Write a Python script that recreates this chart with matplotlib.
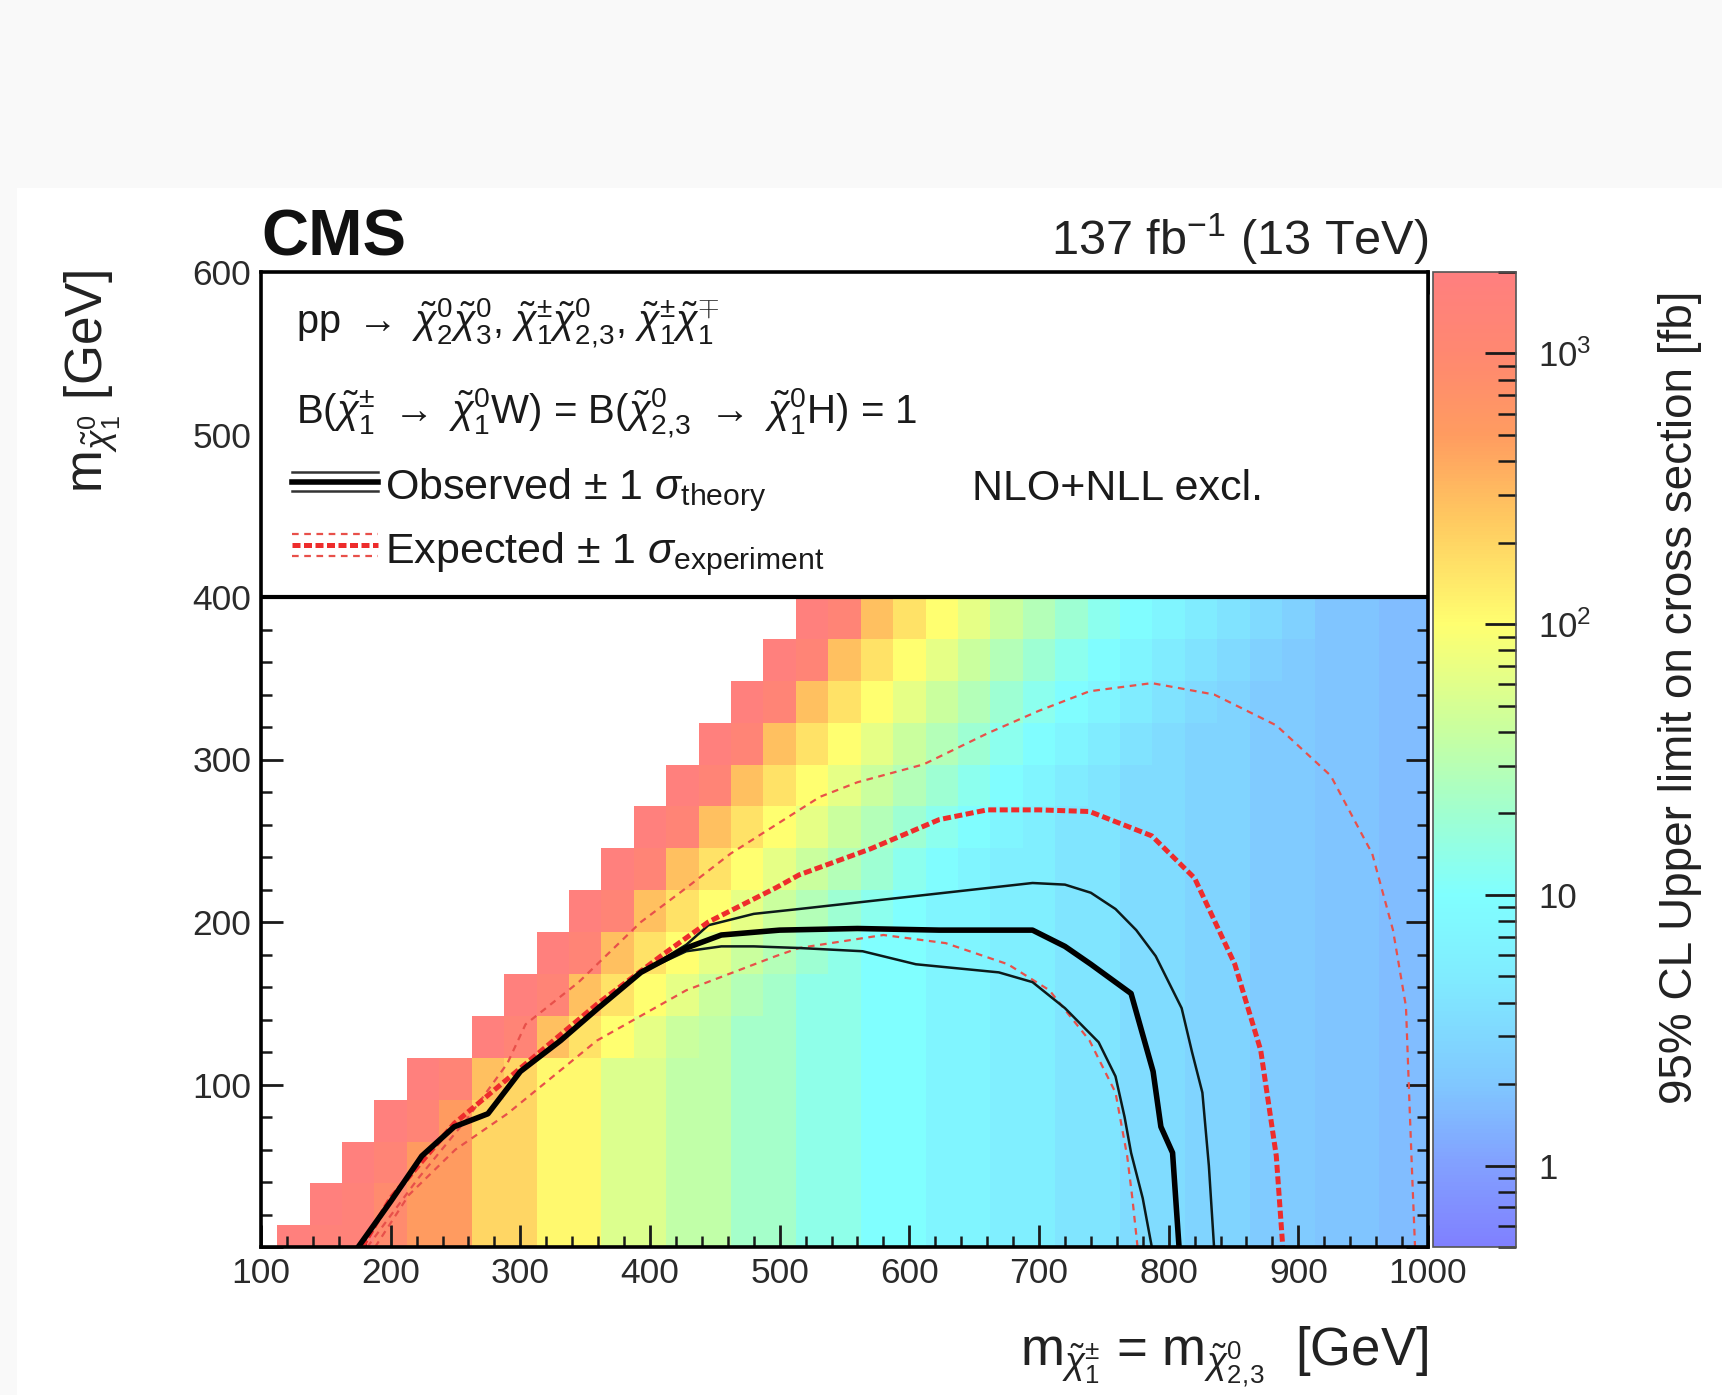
import numpy as np
import matplotlib
matplotlib.use("Agg")
import matplotlib.pyplot as plt
from matplotlib.colors import LinearSegmentedColormap, LogNorm
from matplotlib.ticker import (MultipleLocator, LogLocator, NullFormatter, FixedLocator,
                               FixedFormatter, FuncFormatter)
from matplotlib.patches import Rectangle

plt.rcParams["font.family"] = ["Liberation Sans", "DejaVu Sans"]
plt.rcParams["mathtext.fontset"] = "custom"
plt.rcParams["mathtext.rm"] = "Liberation Sans"
plt.rcParams["mathtext.it"] = "Liberation Sans:italic"
plt.rcParams["mathtext.bf"] = "Liberation Sans:bold"
plt.rcParams["mathtext.sf"] = "Liberation Sans"

# ---------------- data ----------------
# chargino / neutralino-2,3 mass bins (GeV)
x_centers = [125, 150, 175, 200, 225, 250, 275, 300, 325, 350, 375, 400,
             425, 450, 475, 500, 525, 550, 575, 600, 625, 650, 675, 700,
             725, 750, 775, 800, 825, 850, 875, 900, 925, 950, 975, 1000]
# LSP mass bin edges (GeV)
y_edges = [-12.5, 13.3, 39.1, 64.8, 90.6, 116.4, 142.2, 168.0, 193.8,
           219.5, 245.3, 271.1, 296.9, 322.7, 348.4, 374.2, 400.0]
# first populated chargino mass bin in each LSP row
first_bin_mass = [125, 150, 175, 200, 225, 275, 300, 325, 350, 375,
                  400, 425, 450, 475, 500, 525]
# upper limit (fb) far from the diagonal, per chargino mass bin
col_limit = [1500, 1500, 1500, 900, 500, 500, 200, 200, 110, 110, 55, 55,
             35, 35, 22, 22, 14, 14, 10, 10, 7, 7, 5.5, 5.5,
             4.2, 4.2, 3.3, 3.3, 2.7, 2.7, 2.2, 2.2, 1.9, 1.9, 1.7, 1.7]
# upper limit (fb) in the bins next to the diagonal, by bin offset
diag_limit = [1800, 1300, 280, 160, 100, 65, 42, 28, 19, 13, 9.5, 7, 5, 4, 3.2, 2.6]

# observed exclusion contour and its theory variations
obs_x = [175, 200, 224, 249, 275, 300, 331, 360, 393, 428, 455, 500, 560,
         623, 695, 720, 740, 771, 788, 794, 803, 808]
obs_y = [0, 28, 56, 74, 82, 108, 127, 147, 169, 184, 192, 195, 196,
         195, 195, 185, 174, 156, 108, 74, 58, 0]
obs_up_x = [175, 200, 224, 249, 275, 300, 331, 360, 393, 428, 445, 480, 515,
            560, 605, 650, 695, 720, 740, 759, 775, 790, 810, 818, 826, 831, 835]
obs_up_y = [0, 28, 56, 74, 82, 108, 127, 147, 169, 186, 198, 205, 208,
            212, 216, 220, 224, 223, 218, 208, 195, 179, 147, 120, 95, 50, 0]
obs_dn_x = [175, 200, 224, 249, 275, 300, 331, 360, 393, 428, 455, 480, 515,
            564, 605, 669, 695, 720, 746, 759, 766, 771, 780, 787]
obs_dn_y = [0, 28, 56, 74, 82, 108, 127, 147, 169, 182, 185, 185, 184,
            182, 174, 169, 163, 147, 126, 105, 80, 58, 30, 0]

# expected exclusion contour and its experimental variations
exp_x = [178, 200, 249, 300, 360, 410, 445, 497, 515, 570, 623, 660, 700,
         739, 787, 820, 851, 871, 883, 888]
exp_y = [0, 30, 76, 110, 150, 180, 200, 221, 229, 245, 263, 269, 269,
         268, 253, 227, 174, 121, 56, 0]
exp_up_x = [182, 221, 260, 290, 304, 345, 393, 428, 462, 531, 560, 611, 660,
            700, 739, 787, 835, 883, 925, 957, 973, 983, 986, 988, 990]
exp_up_y = [0, 42, 80, 113, 137, 163, 200, 221, 242, 277, 286, 297, 316,
            330, 342, 347, 340, 321, 290, 242, 195, 148, 82, 40, 0]
exp_dn_x = [188, 214, 250, 290, 359, 428, 497, 515, 580, 628, 676, 708, 739,
            759, 768, 772, 776]
exp_dn_y = [0, 32, 60, 82, 127, 158, 179, 184, 192, 187, 174, 158, 127,
            95, 56, 30, 0]

# colour palette anchors of the limit scale
cbar_values = [0.5, 1, 2, 5, 10, 20, 40, 100, 250, 500, 1000, 2000]
cbar_colors = ["#8080ff", "#82a0ff", "#80c8ff", "#80ecff", "#80ffff", "#a0ffd0",
               "#c8ffa0", "#ffff70", "#ffc860", "#ff9c60", "#ff8870", "#ff7f7f"]

# ---------------- histogram ----------------
xc = np.array(x_centers, dtype=float)
half = np.diff(xc).mean() / 2
x_edges = np.append(xc - half, xc[-1] + half)

vals = np.full((len(first_bin_mass), len(x_centers)), np.nan)
for i, first in enumerate(first_bin_mass):
    j0 = x_centers.index(first)
    for j in range(j0, len(x_centers)):
        v = col_limit[j]
        d = j - j0
        if d < len(diag_limit):
            v = max(v, diag_limit[d])
        vals[i, j] = v
vals = np.ma.masked_invalid(vals)

lv = np.log10(cbar_values)
pos = (lv - lv[0]) / (lv[-1] - lv[0])
cmap = LinearSegmentedColormap.from_list("limit", list(zip(pos, cbar_colors)))
cmap.set_bad((1, 1, 1, 0))
norm = LogNorm(vmin=cbar_values[0], vmax=cbar_values[-1])

# ---------------- figure ----------------
W, H = 1722, 1395
fig = plt.figure(figsize=(W / 100, H / 100), dpi=100)
fig.patch.set_facecolor("white")
fig.patches.append(Rectangle((0, 1 - 188 / H), 1, 188 / H, transform=fig.transFigure,
                             facecolor="#f9f9f9", edgecolor="none", zorder=-10))
fig.patches.append(Rectangle((0, 0), 17 / W, 1, transform=fig.transFigure,
                             facecolor="#f9f9f9", edgecolor="none", zorder=-10))

L, R, T, B = 261, 1428, 272, 1247
ax = fig.add_axes([L / W, 1 - B / H, (R - L) / W, (B - T) / H])
cax = fig.add_axes([1433 / W, 1 - B / H, (1516 - 1433) / W, (B - T) / H])

mesh = ax.pcolormesh(x_edges, y_edges, vals, cmap=cmap, norm=norm,
                     shading="flat", edgecolors="none", antialiased=False, zorder=1)

ax.plot(obs_up_x, obs_up_y, color="#0c1a1a", lw=1.8, zorder=2.2)
ax.plot(obs_dn_x, obs_dn_y, color="#0c1a1a", lw=1.8, zorder=2.2)
ax.plot(exp_up_x, exp_up_y, color="#e8504a", lw=1.6, ls=(0, (3, 2.5)), zorder=2.1)
ax.plot(exp_dn_x, exp_dn_y, color="#e8504a", lw=1.6, ls=(0, (3, 2.5)), zorder=2.1)
ax.plot(exp_x, exp_y, color="#ee2c2c", lw=3.6, ls=(0, (1.6, 0.7)), zorder=2.3)
ax.plot(obs_x, obs_y, color="black", lw=4.0, zorder=2.4)

ax.set_xlim(100, 1000)
ax.set_ylim(0, 600)

# legend panel
ax.add_patch(Rectangle((100, 400), 900, 200, facecolor="white", edgecolor="none", zorder=3))
ax.axhline(400, color="black", lw=3.0, zorder=4)

tc = "#1a1a1a"
ax.text(127, 562, r"pp $\rightarrow$ $\tilde{\chi}^{0}_{2}\tilde{\chi}^{0}_{3}$, "
        r"$\tilde{\chi}^{\pm}_{1}\tilde{\chi}^{0}_{2,\!3}$, $\tilde{\chi}^{\pm}_{1}\tilde{\chi}^{\mp}_{1}$",
        fontsize=28.5, color=tc, va="baseline", ha="left", zorder=5)
ax.text(127, 507, r"B($\tilde{\chi}^{\pm}_{1}$ $\rightarrow$ $\tilde{\chi}^{0}_{1}$W) = "
        r"B($\tilde{\chi}^{0}_{2,\!3}$ $\rightarrow$ $\tilde{\chi}^{0}_{1}$H) = 1",
        fontsize=29, color=tc, va="baseline", ha="left", zorder=5)

leg_x = [124, 190]
ax.plot(leg_x, [471, 471], color="black", lw=4.0, zorder=5)
ax.plot(leg_x, [477, 477], color="#333333", lw=1.8, zorder=5)
ax.plot(leg_x, [465, 465], color="#333333", lw=1.8, zorder=5)
ax.text(196, 460, r"Observed $\pm$ 1 $\sigma_{\mathrm{theory}}$", fontsize=31,
        color=tc, va="baseline", ha="left", zorder=5)
ax.text(648, 460, "NLO+NLL excl.", fontsize=31, color=tc, va="baseline", ha="left", zorder=5)

ax.plot(leg_x, [432, 432], color="#ee2c2c", lw=3.6, ls=(0, (1.6, 0.7)), zorder=5)
ax.plot(leg_x, [439, 439], color="#e8504a", lw=1.6, ls=(0, (3, 2.5)), zorder=5)
ax.plot(leg_x, [425, 425], color="#e8504a", lw=1.6, ls=(0, (3, 2.5)), zorder=5)
ax.text(196, 421, r"Expected $\pm$ 1 $\sigma_{\mathrm{experiment}}$", fontsize=31,
        color=tc, va="baseline", ha="left", zorder=5)

# axes styling
for sp in ax.spines.values():
    sp.set_linewidth(2.6)
    sp.set_zorder(6)
ax.xaxis.set_major_locator(MultipleLocator(100))
ax.xaxis.set_minor_locator(MultipleLocator(20))
ax.yaxis.set_major_locator(MultipleLocator(100))
ax.yaxis.set_minor_locator(MultipleLocator(20))
ax.yaxis.set_major_formatter(FuncFormatter(lambda v, p: "" if v == 0 else f"{v:.0f}"))
ax.tick_params(which="both", direction="in", top=True, right=True, colors="#1a1a1a",
               labelcolor="#2a2a2a", labelsize=25.5)
ax.tick_params(which="major", length=16, width=2.0, pad=7)
ax.tick_params(which="minor", length=8, width=1.8)

# colour scale
cb = fig.colorbar(mesh, cax=cax)
cb.outline.set_linewidth(1.2)
cb.outline.set_edgecolor("#555555")
cax.yaxis.set_ticks_position("right")
cax.yaxis.set_major_locator(FixedLocator([1, 10, 100, 1000]))
cax.yaxis.set_major_formatter(FixedFormatter(["1", "10", r"$10^{2}$", r"$10^{3}$"]))
cax.yaxis.set_minor_locator(LogLocator(base=10, subs=np.arange(2, 10)))
cax.yaxis.set_minor_formatter(NullFormatter())
cax.tick_params(which="both", direction="in", colors="#1a1a1a", labelcolor="#2a2a2a",
                labelsize=25)
cax.tick_params(which="major", length=22, width=2.0, pad=16)
cax.tick_params(which="minor", length=13, width=1.8)

# titles and axis labels
fig.text(L / W, 1 - 255 / H, "CMS", fontsize=47, fontweight="bold", color="#111111",
         ha="left", va="baseline")
fig.text(R / W, 1 - 255 / H, r"137 fb$^{-1}$ (13 TeV)", fontsize=35, color="#222222",
         ha="right", va="baseline")
fig.text(R / W, 1 - 1365 / H,
         r"$\mathrm{m}_{\tilde{\chi}^{\pm}_{1}}$ = $\mathrm{m}_{\tilde{\chi}^{0}_{2,\!3}}$  [GeV]",
         fontsize=38, color="#222222", ha="right", va="baseline")
fig.text(93 / W, 1 - 269 / H, r"$\mathrm{m}_{\tilde{\chi}^{0}_{1}}$ [GeV]", fontsize=37,
         color="#222222", rotation=90, ha="center", va="top")
fig.text(1680 / W, 1 - 291 / H, "95% CL Upper limit on cross section [fb]", fontsize=33,
         color="#222222", rotation=90, ha="center", va="top")

fig.savefig("out.png", dpi=100)
